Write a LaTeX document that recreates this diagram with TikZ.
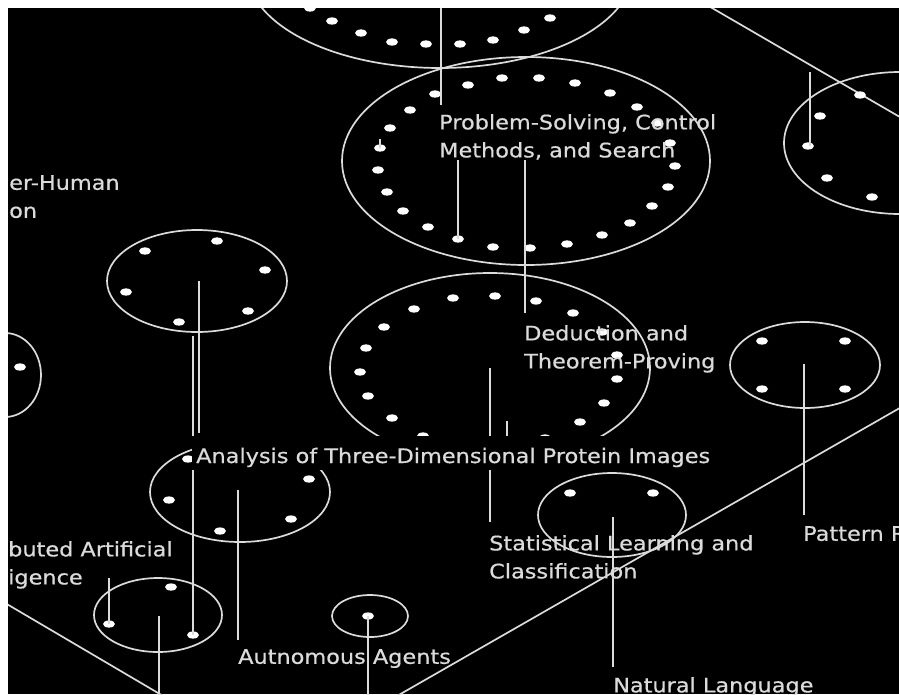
\documentclass[tikz,border=0pt]{standalone}
\usepackage{fontspec}
\usepackage{tikz}
\newfontfamily\labelfont[FakeStretch=1.12, FakeBold=0.6]{DejaVu Sans}
\definecolor{inkgray}{gray}{0.86}

\begin{document}
\begin{tikzpicture}[x=1pt, y=-1pt,
    ring/.style={draw=inkgray, line width=1.7pt},
    stem/.style={draw=inkgray, line width=1.7pt},
    dotfill/.style={fill=white},
    lbl/.style={text=inkgray, inner sep=0pt, anchor=north west, align=left,
        font=\labelfont\fontsize{20}{28}\selectfont}]
    \fill[white] (0,0) rectangle (899,694);
    \begin{scope}
    \clip (8,8) rectangle (899,694);
    \fill[black] (8,8) rectangle (899,694);
    % Plans (vores en diagonal)
    \draw[stem] (0,600) -- (170,700);
    \draw[stem] (390,700) -- (905,405);
    \draw[stem] (700,1) -- (905,120);
    % Cercles dels grups
    \draw[ring] (440,-30) ellipse (193 and 98);
    \draw[ring] (526,161) ellipse (184 and 104);
    \draw[ring] (900,143) ellipse (116 and 71);
    \draw[ring] (197,281) ellipse (90 and 51);
    \draw[ring] (5,375) ellipse (36 and 42);
    \draw[ring] (490,368) ellipse (160 and 95);
    \draw[ring] (240,492) ellipse (90 and 50);
    \draw[ring] (158,615) ellipse (64 and 37);
    \draw[ring] (370,616) ellipse (38 and 21);
    \draw[ring] (612,515) ellipse (74 and 42);
    \draw[ring] (805,365) ellipse (75 and 43);
    % Punts
    \foreach \x/\y in {310/8, 332/21, 361/33, 392/42, 426/44, 460/44, 493/40, 524/30, 550/18,
        468/85, 502/78, 539/78, 575/83, 610/93, 637/107, 657/123, 670/143, 675/166, 668/187,
        652/206, 630/223, 602/235, 567/244, 530/248, 493/247, 458/239,
        435/94, 410/110, 390/128, 380/148, 378/170, 387/192, 403/211, 428/227,
        820/116, 808/146, 827/178, 872/197, 860/95,
        145/251, 217/241, 265/270, 126/292, 248/311, 179/322, 20/367,
        414/309, 384/327, 366/348, 360/372, 368/396, 392/418, 423/436, 453/298, 495/296,
        536/301, 573/313, 602/332, 617/355, 617/379, 604/403, 580/422, 545/438,
        188/459, 169/500, 309/479, 291/519, 220/531,
        171/587, 109/624, 193/635, 368/616, 570/493, 653/493,
        762/341, 845/341, 762/389, 845/389}
        \fill[dotfill] (\x,\y) ellipse (6 and 3.6);
    % Etiquetes
    \node[lbl] (hci) at (9,175) {er-Human\\on};
    \node[lbl] (ps) at (439,114) {Problem-Solving, Control\\Methods, and Search};
    \node[lbl] (dtp) at (524,325) {Deduction and\\Theorem-Proving};
    \node[lbl] (slc) at (489,535) {Statistical Learning and\\Classification};
    \node[lbl] (aut) at (238,649) {Autnomous Agents};
    \node[lbl] (dai) at (8,541) {buted Artificial\\igence};
    \node[lbl] (pat) at (803,526) {Pattern R};
    \node[lbl] (nat) at (613,677) {Natural Language};
    % Punts d'ancoratge
    \coordinate (top-c) at (441,8);
    \coordinate (ps-d) at (458,239);
    \coordinate (rt-d) at (810,146);
    \coordinate (rt-t) at (810,72);
    \coordinate (an-c) at (199,281);
    \coordinate (an-e) at (199,433);
    \coordinate (dai-d) at (193,635);
    \coordinate (dai-t) at (193,336);
    \coordinate (dt-c) at (490,368);
    \coordinate (al-c) at (238,490);
    \coordinate (sm-d) at (109,624);
    \coordinate (sm-t) at (109,578);
    \coordinate (sm-c) at (159,616);
    \coordinate (ag-d) at (368,616);
    \coordinate (st-c) at (613,517);
    \coordinate (pt-c) at (804,364);
    \coordinate (tk-a) at (380,148);
    \coordinate (tk-b) at (507,421);
    % Tiges
    \draw[stem] (top-c) -- ([yshift=9pt]top-c |- ps.north);
    \draw[stem] (ps-d) -- (ps-d |- 0,160);
    \draw[stem] (ps.south -| 525,0) -- ([yshift=12pt]525,0 |- dtp.north);
    \draw[stem] (rt-t) -- (rt-d);
    \draw[stem] (an-c) -- (an-e);
    \draw[stem] (dai-t) -- (dai-d);
    \draw[stem] (dt-c) -- ([yshift=13pt]dt-c |- slc.north);
    \draw[stem] (al-c) -- ([yshift=9pt]al-c |- aut.north);
    \draw[stem] (sm-t) -- (sm-d);
    \draw[stem] (sm-c) -- (sm-c |- 0,700);
    \draw[stem] (ag-d) -- (ag-d |- 0,700);
    \draw[stem] (st-c) -- ([yshift=10pt]st-c |- nat.north);
    \draw[stem] (pt-c) -- ([yshift=11pt]pt-c |- pat.north);
    \draw[stem] (tk-a) -- ++(0,-9);
    \draw[stem] (tk-b) -- ++(0,16);
    % Etiqueta amb fons negre
    \node[lbl, anchor=base west, fill=black, inner xsep=4pt, text height=27pt, text depth=7pt]
        (ana) at (192,463) {Analysis of Three-Dimensional Protein Images};
    \end{scope}
\end{tikzpicture}
\end{document}
